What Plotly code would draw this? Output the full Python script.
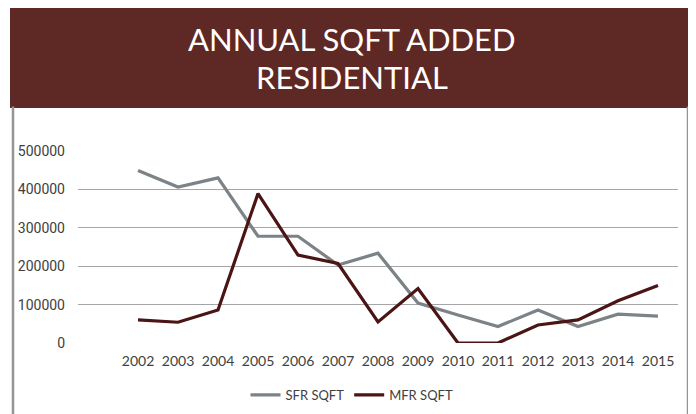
import plotly.graph_objects as go

years = [2002, 2003, 2004, 2005, 2006, 2007, 2008, 2009, 2010, 2011, 2012, 2013, 2014, 2015]
sfr_sqft = [449000, 406000, 430000, 278000, 278000, 203000, 234000, 104000, 73000, 43000, 86000, 43000, 75000, 70000]
mfr_sqft = [60000, 54000, 86000, 389000, 229000, 207000, 55000, 142000, 0, 0, 47000, 60000, 110000, 150000]
y_ticks = [0, 100000, 200000, 300000, 400000, 500000]

# page body has an 8px margin, so the figure is drawn from (8, 8)
OFF = 8
W, H = 696 - OFF, 414 - OFF
L, R, T, B = 78 - OFF, 18, 150.7 - OFF, H - (343.3 - OFF)
pw, ph = W - L - R, H - T - B


def px(x):
    return (x - OFF - L) / pw


def py(y):
    return (H - B - (y - OFF)) / ph


fig = go.Figure()
fig.add_trace(go.Scatter(x=years, y=sfr_sqft, mode="lines", name="SFR SQFT",
                         line=dict(color="#7C8387", width=3.2)))
fig.add_trace(go.Scatter(x=years, y=mfr_sqft, mode="lines", name="MFR SQFT",
                         line=dict(color="#4B1415", width=3.2)))

border = dict(color="#959595", width=2.5)
shapes = [
    dict(type="line", xref="paper", yref="paper", x0=px(13), x1=px(13), y0=py(420), y1=py(106),
         line=border, layer="above"),
    dict(type="line", xref="paper", yref="paper", x0=px(688), x1=px(688), y0=py(420), y1=py(106),
         line=border, layer="above"),
    dict(type="rect", xref="paper", yref="paper", x0=px(10), x1=px(700), y0=py(107.5), y1=py(0),
         line=dict(width=0), fillcolor="#5E2824", layer="below"),
]

title_font = dict(family="Lato, Liberation Sans Narrow, sans-serif", size=31, color="white")
annotations = [
    dict(text="ANNUAL SQFT ADDED", xref="paper", yref="paper",
         x=px(352), y=py(38), xanchor="center", yanchor="middle", showarrow=False, font=title_font),
    dict(text="RESIDENTIAL", xref="paper", yref="paper",
         x=px(352), y=py(76), xanchor="center", yanchor="middle", showarrow=False, font=title_font),
]

tick_font = dict(family="Lato, sans-serif", size=14, color="#404040")

fig.update_layout(
    width=W, height=H,
    margin=dict(l=L, r=R, t=T, b=B, pad=0, autoexpand=False),
    paper_bgcolor="white", plot_bgcolor="white",
    shapes=shapes, annotations=annotations,
    showlegend=True,
    legend=dict(orientation="h", xref="container", yref="container",
                x=(352 - OFF) / W, xanchor="center", y=1 - (395 - OFF) / H, yanchor="middle",
                font=dict(family="Lato, sans-serif", size=13, color="#404040"),
                itemwidth=30, tracegroupgap=0),
    xaxis=dict(range=[2000.5, 2015.5], tickvals=years, ticktext=[str(y) for y in years],
               showgrid=False, zeroline=False, showline=False, ticks="",
               ticklabelstandoff=8, tickfont=tick_font),
    yaxis=dict(range=[0, 500000], tickvals=y_ticks, ticktext=[str(v) for v in y_ticks],
               showgrid=True, gridcolor="#A6A6A6", gridwidth=1, zeroline=False, showline=False,
               ticks="", ticklabelstandoff=12,
               tickfont=dict(family="Roboto, Liberation Sans, sans-serif", size=14, color="#404040")),
)

fig.write_html("out.html")
